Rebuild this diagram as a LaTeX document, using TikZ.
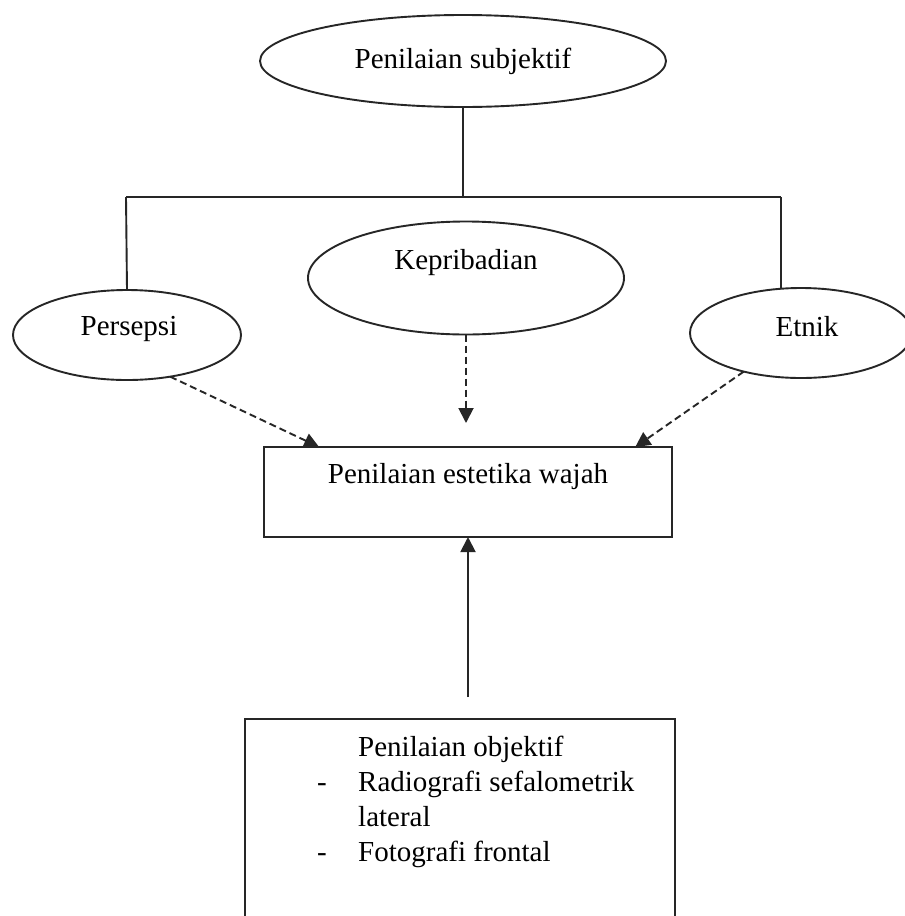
\documentclass[tikz,border=0pt]{standalone}
\usepackage{fontspec}
\setmainfont{Liberation Serif}
\usetikzlibrary{shapes.geometric,arrows.meta,calc}
\begin{document}
\begin{tikzpicture}[x=1pt,y=-1pt,
  every node/.style={font=\fontsize{29}{35}\selectfont, text=black},
  line/.style={draw=black!85, line width=1.9pt},
  oval/.style={ellipse, line, inner sep=0pt, outer sep=0pt},
  box/.style={rectangle, line, inner sep=0pt, outer sep=0pt},
  arr/.style={line, -{Triangle[length=15pt,width=15pt]}},
  darr/.style={arr, dash pattern=on 7pt off 4pt}]
\useasboundingbox[fill=white] (0,0) rectangle (905,916);

\node[oval, minimum width=406pt, minimum height=92pt] (sub) at (463,61) {Penilaian subjektif};
\node[oval, minimum width=316pt, minimum height=113pt,
      label={[yshift=15pt]center:Kepribadian}] (kep) at (466,278) {};
\node[oval, minimum width=228pt, minimum height=90pt,
      label={[xshift=2pt,yshift=6pt]center:Persepsi}] (per) at (127,335) {};
\node[oval, minimum width=222pt, minimum height=90pt,
      label={[xshift=6pt,yshift=6pt]center:Etnik}] (etn) at (801,333) {};
\node[box, minimum width=408pt, minimum height=90pt,
      label={[yshift=15pt]center:Penilaian estetika wajah}] (est) at (468,492) {};
\node[box, minimum width=430pt, minimum height=260pt, anchor=north] (obj) at (460,719) {};
\node[anchor=north west, inner sep=0pt] (objtxt) at (317,732)
  {\begin{tabular}{@{}p{41pt}@{}l@{}}
     & Penilaian objektif\\
   - & Radiografi sefalometrik\\
     & lateral\\
   - & Fotografi frontal
   \end{tabular}};

\coordinate (hm) at (463,197);
\coordinate (hl) at (126,197);
\coordinate (hr) at (781,197);
\draw[line] (sub.south) -- (hm);
\draw[line] (hl) -- (hr);
\draw[line] (hl) -- (per.north);
\draw[line] (hr) -- (hr |- etn.north);

\draw[darr] (per.-44) -- ($(est.north west)!0.135!(est.north east)$);
\draw[darr] (kep.south) -- ($(kep.south |- est.north)+(0,-24)$);
\draw[darr] (etn.214) -- ($(est.north west)!0.91!(est.north east)$);
\draw[arr] ($(est.south |- obj.north)+(0,-22)$) -- (est.south);
\end{tikzpicture}
\end{document}
